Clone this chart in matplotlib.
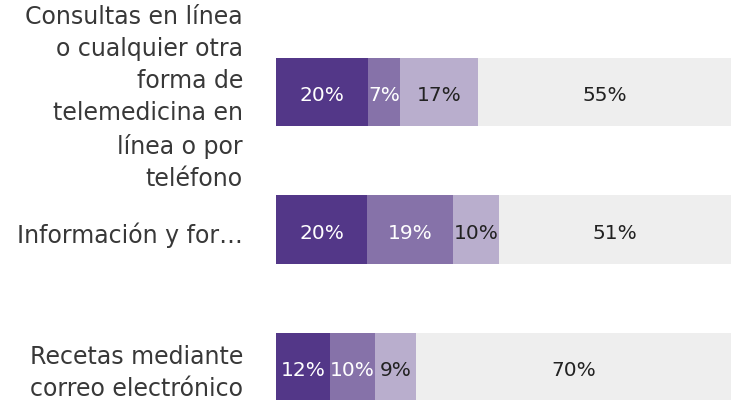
import matplotlib.pyplot as plt
import matplotlib as mpl
from matplotlib.transforms import offset_copy

mpl.rcParams["font.family"] = ["DejaVu Sans"]

categories = [
    "Consultas en línea\no cualquier otra\nforma de\ntelemedicina en\nlínea o por\nteléfono",
    "Información y for…",
    "Recetas mediante\ncorreo electrónico",
]
seg1 = [20, 20, 12]
seg2 = [7, 19, 10]
seg3 = [17, 10, 9]
seg4 = [55, 51, 70]

colors = ["#533788", "#8672a9", "#b9aecd", "#eeeeee"]
text_colors = ["white", "white", "#222222", "#222222"]

series = [seg1, seg2, seg3, seg4]
# rounded percentages don't always add to 100, bars are drawn as share of the row total
totals = [sum(s[i] for s in series) for i in range(len(categories))]

fig = plt.figure(figsize=(7.31, 4.0), dpi=100)
ax = fig.add_axes([276 / 731, 0, 455 / 731, 1])

# text in the reference sits a few pixels below the bar centre
pct_tr = offset_copy(ax.transData, fig=fig, x=0, y=-4, units="dots")
lab_tr = offset_copy(ax.transData, fig=fig, x=-33, y=-6, units="dots")

ypos = list(range(len(categories)))
left = [0] * len(categories)
for vals, col, tcol in zip(series, colors, text_colors):
    widths = [v / t * 100 for v, t in zip(vals, totals)]
    ax.barh(ypos, widths, left=left, height=0.495, color=col, linewidth=0)
    for y, v, w, l in zip(ypos, vals, widths, left):
        ax.text(l + w / 2, y, f"{v}%", ha="center", va="center",
                color=tcol, fontsize=14.5, transform=pct_tr)
    left = [a + b for a, b in zip(left, widths)]

for y, lab in zip(ypos, categories):
    ax.text(0, y, lab, ha="right", va="center", transform=lab_tr,
            multialignment="right", fontsize=17, color="#383838",
            linespacing=1.43)

ax.set_xlim(0, 100)
ax.set_ylim(2.24, -0.669)
ax.axis("off")

fig.savefig("out.png", dpi=100)
